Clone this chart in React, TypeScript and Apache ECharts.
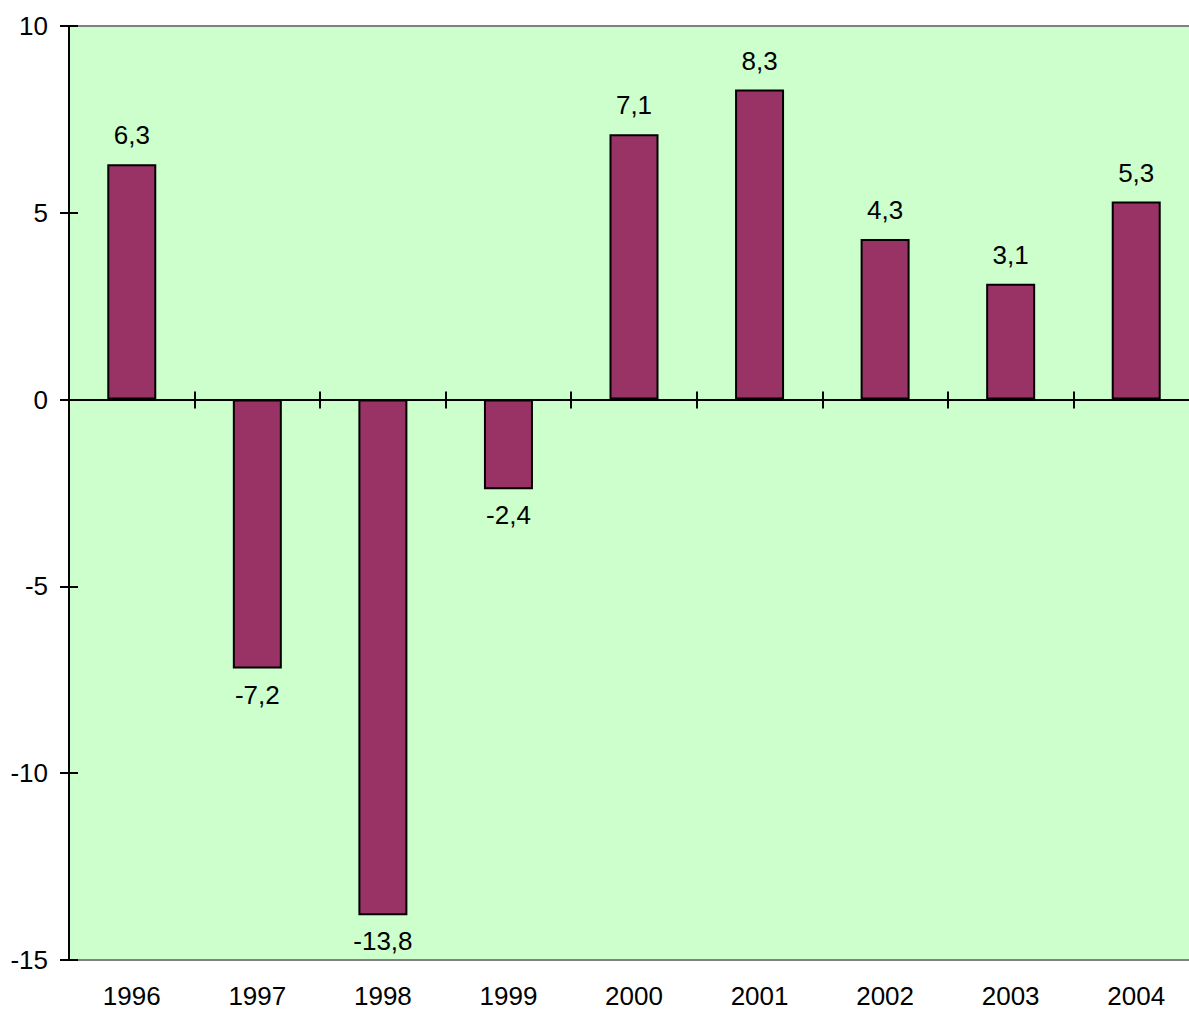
import React, { useEffect, useRef } from "react";
import * as echarts from "echarts";

const years = ["1996", "1997", "1998", "1999", "2000", "2001", "2002", "2003", "2004"];
const values = [6.3, -7.2, -13.8, -2.4, 7.1, 8.3, 4.3, 3.1, 5.3];
const yMin = -15;
const yMax = 10;
const yStep = 5;

const FONT = "'Liberation Sans', Arial, sans-serif";

const CHART_W = 1200;
const GRID_L = 69;
const GRID_R = 1;

export default function App() {
  const ref = useRef<HTMLDivElement>(null);
  useEffect(() => {
    if (!ref.current) return;
    const chart = echarts.init(ref.current, null, { renderer: "svg" });
    const black = "#000000";
    const rect = { left: GRID_L, right: GRID_R, top: 26, bottom: 50 };
    const baseCat = { type: "category", data: years, boundaryGap: true };
    chart.setOption({
      animation: false,
      textStyle: { fontFamily: FONT },
      grid: [
        {
          ...rect,
          show: true,
          backgroundColor: "#CCFFCC",
          borderColor: "#808080",
          borderWidth: 2,
        },
        { ...rect, show: false },
      ],
      xAxis: [
        {
          ...baseCat,
          gridIndex: 0,
          position: "bottom",
          axisLine: { show: false, onZero: false },
          axisTick: { show: false },
          axisLabel: { fontSize: 26, color: black, margin: 23, fontFamily: FONT, interval: 0 },
          splitLine: { show: false },
        },
        {
          ...baseCat,
          gridIndex: 0,
          position: "top",
          axisLine: { show: true, onZero: true, lineStyle: { color: black, width: 2 } },
          axisTick: { show: true, inside: false, length: 8, interval: 0, lineStyle: { color: black, width: 2 } },
          axisLabel: { show: false },
          splitLine: { show: false },
        },
        {
          ...baseCat,
          gridIndex: 1,
          position: "bottom",
          axisLine: { show: true, onZero: true, lineStyle: { color: black, width: 2 } },
          axisTick: { show: true, inside: false, length: 9, interval: 0, lineStyle: { color: black, width: 2 } },
          axisLabel: { show: false },
          splitLine: { show: false },
        },
      ],
      yAxis: [
        {
          type: "value",
          gridIndex: 0,
          min: yMin,
          max: yMax,
          interval: yStep,
          position: "left",
          axisLine: { show: true, onZero: false, lineStyle: { color: black, width: 2 } },
          axisTick: { show: true, inside: false, length: 9, lineStyle: { color: black, width: 2 } },
          axisLabel: { fontSize: 26, color: black, margin: 21, fontFamily: FONT },
          splitLine: { show: false },
        },
        {
          type: "value",
          gridIndex: 1,
          min: yMin,
          max: yMax,
          interval: yStep,
          position: "left",
          axisLine: { show: true, onZero: false, lineStyle: { color: black, width: 2 } },
          axisTick: { show: true, inside: true, length: 9, lineStyle: { color: black, width: 2 } },
          axisLabel: { show: false },
          splitLine: { show: false },
        },
      ],
      series: [
        {
          type: "bar",
          xAxisIndex: 0,
          yAxisIndex: 0,
          barWidth: 49,
          itemStyle: { color: "#993366", borderColor: black, borderWidth: 2 },
          data: values.map((v) => ({
            value: v,
            label: { position: v >= 0 ? "top" : "bottom", distance: v >= 0 ? 16 : 13 },
          })),
          label: {
            show: true,
            fontSize: 26,
            color: black,
            fontFamily: FONT,
            formatter: (p: any) => String(p.value).replace(".", ","),
          },
          z: 1,
        },
      ],
    });
    return () => chart.dispose();
  }, []);
  return (
    <div style={{ position: "fixed", left: 0, top: 0, width: 1189, height: 1010, overflow: "hidden", background: "#fff" }}>
      <div ref={ref} style={{ width: CHART_W, height: 1010 }} />
    </div>
  );
}
